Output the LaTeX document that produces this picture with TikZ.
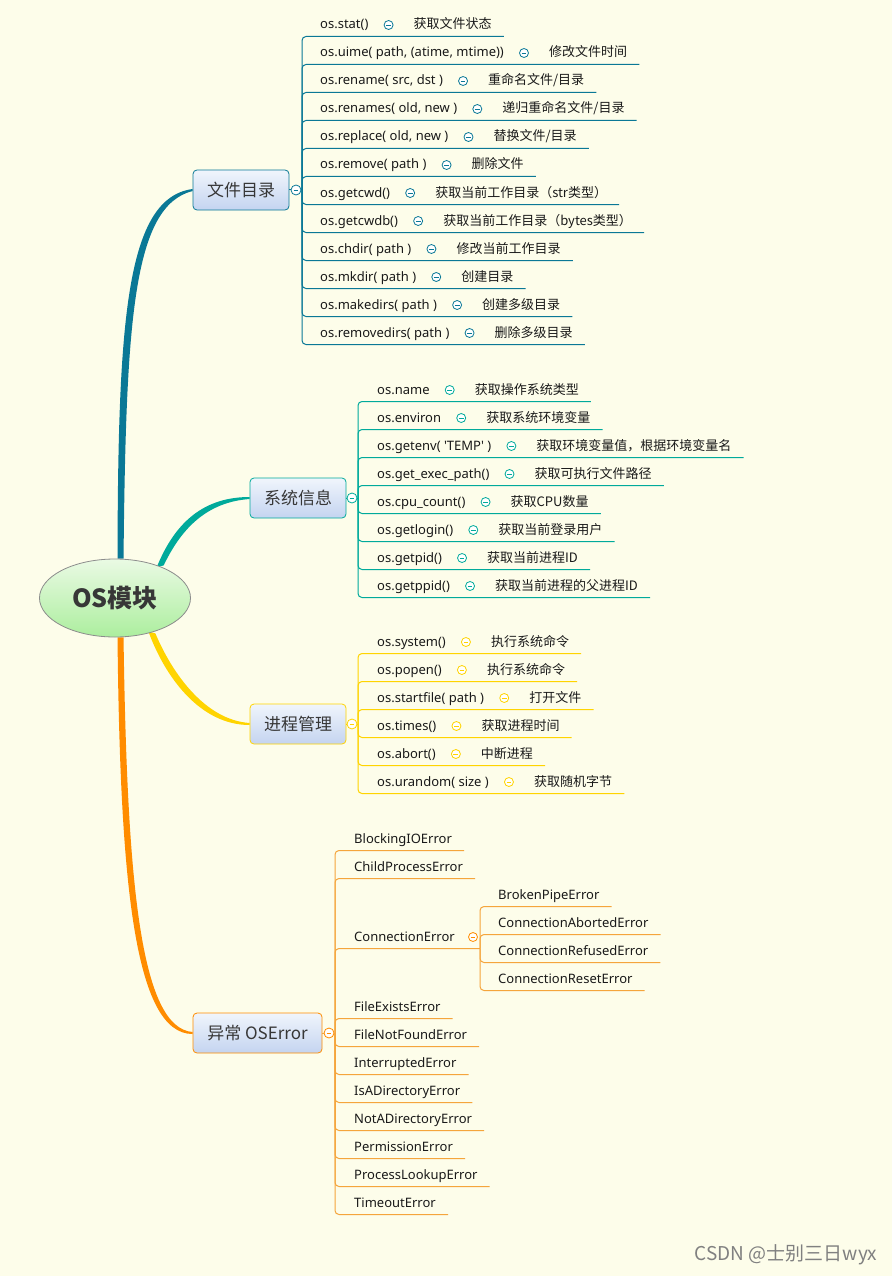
\documentclass[tikz,border=0pt]{standalone}
\usepackage{fontspec}
\setmainfont{Noto Sans CJK SC}
\newfontfamily\latfont{Noto Sans}
\usepackage{tikz}
\usetikzlibrary{positioning,shapes.geometric,backgrounds}
\definecolor{paper}{RGB}{253,253,234}
\definecolor{filecol}{RGB}{10,120,150}
\definecolor{syscol}{RGB}{0,170,155}
\definecolor{proccol}{RGB}{255,212,0}
\definecolor{errcol}{RGB}{255,140,0}
\definecolor{errline}{RGB}{245,165,60}
\definecolor{topfill}{RGB}{240,245,252}
\definecolor{botfill}{RGB}{196,212,240}
\definecolor{inkgray}{RGB}{55,55,55}

\begin{document}
\begin{tikzpicture}[x=1pt,y=-1pt,
  every node/.style={inner sep=0pt},
  fn/.style={anchor=west,font=\latfont\fontsize{13}{15}\selectfont,text=black!90,
             text height=11pt,text depth=3pt},
  ds/.style={font=\fontsize{13}{15}\selectfont,text=black!90,
             text height=11pt,text depth=3pt},
  knob/.style={circle,draw=#1,fill=white,line width=0.8pt,minimum size=9pt,
               path picture={\draw[#1,line width=0.8pt]
               ([xshift=-2.4pt]path picture bounding box.center) --
               ([xshift=2.4pt]path picture bounding box.center);}},
  topic/.style={draw=#1,rounded corners=4pt,top color=topfill,bottom color=botfill,
                minimum height=40pt,font=\fontsize{17}{20}\selectfont,text=inkgray,
                line width=0.8pt},
  twig/.style={draw=#1,line width=1pt,rounded corners=4pt}
]
\useasboundingbox (0,0) rectangle (892,1276);

\node[ellipse,draw=black!45,line width=0.8pt,
      top color={rgb,255:red,234;green,250;blue,228},
      bottom color={rgb,255:red,172;green,238;blue,158},
      minimum width=151pt,minimum height=78pt,
      font=\fontsize{25}{28}\selectfont\bfseries,text=inkgray] (os) at (115,598) {OS模块};

% main topics
\node[topic=filecol,minimum width=96pt] (files) at (241,190) {文件目录};
\node[topic=syscol,minimum width=96pt] (sys) at (298,498) {系统信息};
\node[topic=proccol,minimum width=96pt] (proc) at (298,724) {进程管理};
\node[topic=errcol,minimum width=129pt] (err) at (257.5,1033) {异常 OSError};

\node[knob=filecol,minimum size=10pt] (kfiles) at (296,190) {};
\node[knob=syscol,minimum size=10pt] (ksys) at (352,498) {};
\node[knob=proccol,minimum size=10pt] (kproc) at (352,724) {};
\node[knob=errcol,minimum size=10pt] (kerr) at (329,1033) {};
\coordinate (sfiles) at (302,190);
\coordinate (ssys) at (358,498);
\coordinate (sproc) at (358,724);
\coordinate (serr) at (335,1033);
\draw[filecol,line width=1pt] (files) -- (kfiles) -- (sfiles);
\draw[syscol,line width=1pt] (sys) -- (ksys) -- (ssys);
\draw[proccol,line width=1pt] (proc) -- (kproc) -- (sproc);
\draw[errline,line width=1pt] (err) -- (kerr) -- (serr);

% file functions
\foreach \fname/\dtext [count=\i] in {os.stat()/获取文件状态,
    {os.uime( path, (atime, mtime))}/修改文件时间,
    {os.rename( src, dst )}/{重命名文件/目录},
    {os.renames( old, new )}/{递归重命名文件/目录},
    {os.replace( old, new )}/{替换文件/目录},
    {os.remove( path )}/删除文件,
    os.getcwd()/获取当前工作目录（str类型）,
    os.getcwdb()/获取当前工作目录（bytes类型）,
    {os.chdir( path )}/修改当前工作目录,
    {os.mkdir( path )}/创建目录,
    {os.makedirs( path )}/创建多级目录,
    {os.removedirs( path )}/删除多级目录} {
  \node[fn] (fa\i) at (320,{25+28*(\i-1)}) {\fname};
  \node[knob=filecol,right=15pt of fa\i] (ka\i) {};
  \node[ds,right=20pt of ka\i] (da\i) {\dtext};
  \coordinate (ua\i) at ([xshift=12pt,yshift=-11.5pt]da\i.east);
  \draw[twig=filecol] (sfiles) |- (ua\i);
}

% system information
\foreach \fname/\dtext [count=\i] in {os.name/获取操作系统类型,
    os.environ/获取系统环境变量,
    {os.getenv( \textquotesingle TEMP\textquotesingle\ )}/获取环境变量值，根据环境变量名,
    os.get\_exec\_path()/获取可执行文件路径,
    os.cpu\_count()/获取CPU数量,
    os.getlogin()/获取当前登录用户,
    os.getpid()/获取当前进程ID,
    os.getppid()/获取当前进程的父进程ID} {
  \node[fn] (fb\i) at (377,{390+28*(\i-1)}) {\fname};
  \node[knob=syscol,right=15pt of fb\i] (kb\i) {};
  \node[ds,right=20pt of kb\i] (db\i) {\dtext};
  \coordinate (ub\i) at ([xshift=12pt,yshift=-11.5pt]db\i.east);
  \draw[twig=syscol] (ssys) |- (ub\i);
}

% process management
\foreach \fname/\dtext [count=\i] in {os.system()/执行系统命令,
    os.popen()/执行系统命令,
    {os.startfile( path )}/打开文件,
    os.times()/获取进程时间,
    os.abort()/中断进程,
    {os.urandom( size )}/获取随机字节} {
  \node[fn] (fc\i) at (377,{642+28*(\i-1)}) {\fname};
  \node[knob=proccol,right=15pt of fc\i] (kc\i) {};
  \node[ds,right=20pt of kc\i] (dc\i) {\dtext};
  \coordinate (uc\i) at ([xshift=12pt,yshift=-11.5pt]dc\i.east);
  \draw[twig=proccol] (sproc) |- (uc\i);
}

% errors
\foreach \fname/\y [count=\i] in {BlockingIOError/839,ChildProcessError/867,
    FileExistsError/1007,FileNotFoundError/1035,InterruptedError/1063,
    IsADirectoryError/1091,NotADirectoryError/1119,PermissionError/1147,
    ProcessLookupError/1175,TimeoutError/1203} {
  \node[fn] (fd\i) at (354,\y) {\fname};
  \coordinate (ud\i) at ([xshift=12pt,yshift=-11.5pt]fd\i.east);
  \draw[twig=errline] (serr) |- (ud\i);
}
\node[fn] (conn) at (354,937) {ConnectionError};
\node[knob=errcol] (kconn) at (473,937) {};
\coordinate (sconn) at (480,948.5);
\draw[twig=errline] (serr) |- (sconn);
\foreach \fname [count=\i] in {BrokenPipeError,ConnectionAbortedError,
    ConnectionRefusedError,ConnectionResetError} {
  \node[fn] (fe\i) at (498,{895+28*(\i-1)}) {\fname};
  \coordinate (ue\i) at ([xshift=12pt,yshift=-11.5pt]fe\i.east);
  \draw[twig=errline] (sconn) |- (ue\i);
}

\node[font=\fontsize{19}{22}\selectfont,text=black!50] (mark) at (786,1255) {CSDN @士别三日wyx};

\begin{scope}[on background layer]
\fill[paper] (0,0) rectangle (892,1276);
% tapered branches
\fill[filecol] ([xshift=-3pt]os.82) .. controls (118,320) and (126,198) .. ([yshift=1pt]files.west)
  -- ([yshift=-1pt]files.west) .. controls (133,206) and (126,320) .. ([xshift=3pt]os.82) -- cycle;
\fill[syscol] ([xshift=-3.5pt,yshift=-1pt]os.35) .. controls (175,522) and (204,497) .. ([yshift=1pt]sys.west)
  -- ([yshift=-1pt]sys.west) .. controls (208,502) and (182,527) .. ([xshift=3.5pt,yshift=1pt]os.35) -- cycle;
\fill[proccol] ([xshift=-3.5pt,yshift=1pt]os.-43) .. controls (165,677) and (200,725) .. ([yshift=-1pt]proc.west)
  -- ([yshift=1pt]proc.west) .. controls (205,720) and (172,673) .. ([xshift=3.5pt,yshift=-1pt]os.-43) -- cycle;
\fill[errcol] ([xshift=-3pt]os.-82) .. controls (120,880) and (134,1034) .. ([yshift=-1pt]err.west)
  -- ([yshift=1pt]err.west) .. controls (140,1028) and (127,880) .. ([xshift=3pt]os.-82) -- cycle;
\end{scope}
\end{tikzpicture}
\end{document}
